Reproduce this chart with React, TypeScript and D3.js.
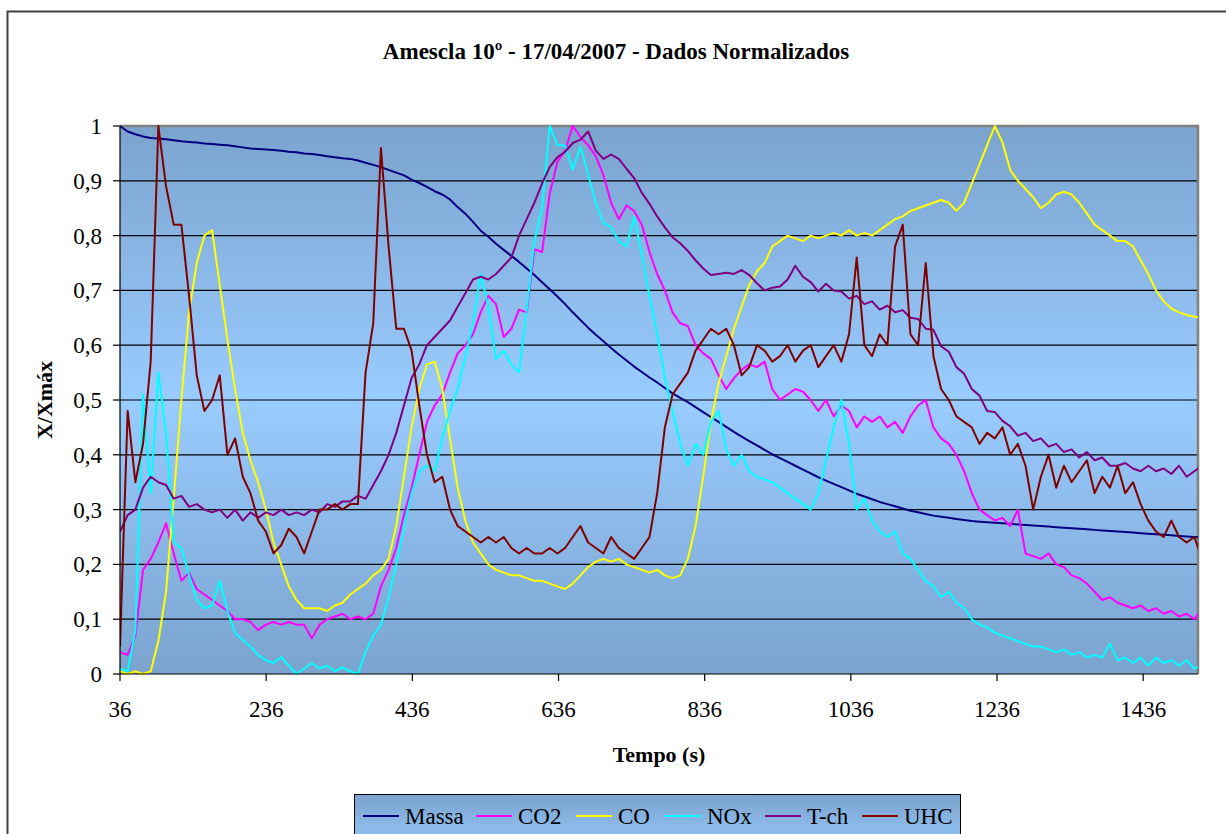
import React from 'react';
import * as d3 from 'd3';

// sample grid (s)
const times: number[] = d3.range(142).map((k) => 36 + 10.5 * k);

const xTicks = [36, 236, 436, 636, 836, 1036, 1236, 1436];
const yTicks = [0, 0.1, 0.2, 0.3, 0.4, 0.5, 0.6, 0.7, 0.8, 0.9, 1];
const yTickLabels = ['0', '0,1', '0,2', '0,3', '0,4', '0,5', '0,6', '0,7', '0,8', '0,9', '1'];

const seriesNames = ['Massa', 'CO2', 'CO', 'NOx', 'T-ch', 'UHC'];
const seriesColors = ['#000080', '#FF00FF', '#FFFF00', '#00FFFF', '#800080', '#800000'];

const massa = [
  1.0, 0.99, 0.985, 0.981, 0.978, 0.977, 0.976, 0.974, 0.972, 0.971,
  0.970, 0.968, 0.967, 0.966, 0.965, 0.963, 0.961, 0.959, 0.958, 0.957,
  0.956, 0.955, 0.953, 0.952, 0.950, 0.949, 0.947, 0.945, 0.943, 0.941,
  0.940, 0.937, 0.933, 0.929, 0.925, 0.920, 0.915, 0.910, 0.902, 0.896,
  0.889, 0.881, 0.875, 0.866, 0.852, 0.840, 0.825, 0.809, 0.798, 0.785,
  0.774, 0.763, 0.752, 0.740, 0.728, 0.715, 0.702, 0.689, 0.675, 0.660,
  0.646, 0.632, 0.619, 0.607, 0.595, 0.583, 0.572, 0.561, 0.551, 0.541,
  0.532, 0.522, 0.512, 0.504, 0.496, 0.487, 0.478, 0.469, 0.460, 0.451,
  0.442, 0.433, 0.425, 0.417, 0.409, 0.401, 0.394, 0.387, 0.380, 0.373,
  0.366, 0.359, 0.353, 0.347, 0.341, 0.335, 0.329, 0.324, 0.319, 0.314,
  0.310, 0.306, 0.302, 0.298, 0.295, 0.292, 0.289, 0.287, 0.285, 0.283,
  0.281, 0.279, 0.278, 0.277, 0.276, 0.275, 0.274, 0.273, 0.272, 0.271,
  0.270, 0.269, 0.268, 0.267, 0.266, 0.265, 0.264, 0.263, 0.262, 0.261,
  0.260, 0.259, 0.258, 0.257, 0.256, 0.255, 0.254, 0.253, 0.252, 0.251,
  0.250, 0.249,
];

const co2 = [
  0.04, 0.035, 0.07, 0.19, 0.21, 0.24, 0.275, 0.22, 0.17, 0.185,
  0.155, 0.145, 0.135, 0.125, 0.115, 0.10, 0.10, 0.095, 0.08, 0.09,
  0.095, 0.09, 0.095, 0.09, 0.09, 0.065, 0.09, 0.10, 0.105, 0.11,
  0.10, 0.105, 0.10, 0.11, 0.16, 0.19, 0.23, 0.29, 0.34, 0.40,
  0.46, 0.49, 0.51, 0.55, 0.585, 0.60, 0.62, 0.66, 0.69, 0.675,
  0.615, 0.63, 0.665, 0.66, 0.775, 0.77, 0.877, 0.935, 0.955, 1.0,
  0.98, 0.965, 0.945, 0.91, 0.86, 0.83, 0.855, 0.845, 0.82, 0.77,
  0.73, 0.70, 0.66, 0.64, 0.635, 0.60, 0.585, 0.575, 0.545, 0.52,
  0.54, 0.555, 0.565, 0.56, 0.57, 0.52, 0.50, 0.51, 0.52, 0.515,
  0.50, 0.48, 0.50, 0.47, 0.49, 0.48, 0.45, 0.47, 0.46, 0.47,
  0.45, 0.46, 0.44, 0.47, 0.49, 0.50, 0.45, 0.43, 0.42, 0.40,
  0.37, 0.33, 0.30, 0.29, 0.28, 0.285, 0.27, 0.30, 0.22, 0.215,
  0.21, 0.22, 0.20, 0.195, 0.18, 0.175, 0.165, 0.15, 0.135, 0.14,
  0.13, 0.125, 0.12, 0.125, 0.115, 0.12, 0.11, 0.115, 0.105, 0.11,
  0.10, 0.12,
];

const co = [
  0.005, 0.0, 0.005, 0.0, 0.005, 0.06, 0.15, 0.32, 0.5, 0.66,
  0.75, 0.80, 0.81, 0.71, 0.61, 0.52, 0.44, 0.39, 0.35, 0.30,
  0.24, 0.20, 0.16, 0.135, 0.12, 0.12, 0.12, 0.115, 0.125, 0.13,
  0.145, 0.155, 0.165, 0.18, 0.19, 0.21, 0.27, 0.36, 0.45, 0.52,
  0.565, 0.57, 0.52, 0.43, 0.34, 0.28, 0.24, 0.22, 0.20, 0.19,
  0.185, 0.18, 0.18, 0.175, 0.17, 0.17, 0.165, 0.16, 0.155, 0.165,
  0.18, 0.195, 0.205, 0.21, 0.205, 0.21, 0.20, 0.195, 0.19, 0.185,
  0.19, 0.18, 0.175, 0.18, 0.21, 0.27, 0.36, 0.46, 0.53, 0.58,
  0.63, 0.67, 0.71, 0.735, 0.75, 0.78, 0.79, 0.80, 0.795, 0.79,
  0.80, 0.795, 0.80, 0.805, 0.80, 0.81, 0.80, 0.805, 0.80, 0.81,
  0.82, 0.83, 0.835, 0.845, 0.85, 0.855, 0.86, 0.865, 0.86, 0.845,
  0.86, 0.895, 0.93, 0.965, 1.0, 0.97, 0.92, 0.90, 0.885, 0.87,
  0.85, 0.86, 0.875, 0.88, 0.875, 0.86, 0.84, 0.82, 0.81, 0.80,
  0.79, 0.79, 0.78, 0.755, 0.73, 0.70, 0.68, 0.667, 0.66, 0.655,
  0.652, 0.65,
];

const nox = [
  0.01, 0.005, 0.08, 0.51, 0.33, 0.55, 0.44, 0.24, 0.23, 0.18,
  0.135, 0.12, 0.125, 0.17, 0.115, 0.075, 0.062, 0.05, 0.035, 0.025,
  0.02, 0.031, 0.015, 0.0, 0.01, 0.02, 0.01, 0.015, 0.005, 0.012,
  0.005, 0.0, 0.04, 0.07, 0.09, 0.14, 0.20, 0.27, 0.33, 0.37,
  0.38, 0.37, 0.43, 0.48, 0.52, 0.58, 0.64, 0.73, 0.67, 0.575,
  0.59, 0.565, 0.55, 0.664, 0.79, 0.85, 1.0, 0.965, 0.965, 0.92,
  0.962, 0.912, 0.86, 0.823, 0.815, 0.79, 0.78, 0.835, 0.765, 0.69,
  0.62, 0.54, 0.48, 0.42, 0.38, 0.42, 0.40, 0.46, 0.48, 0.41,
  0.38, 0.40, 0.37, 0.36, 0.355, 0.35, 0.34, 0.33, 0.32, 0.31,
  0.30, 0.33, 0.39, 0.45, 0.50, 0.42, 0.30, 0.32, 0.28, 0.26,
  0.25, 0.26, 0.22, 0.21, 0.19, 0.17, 0.16, 0.14, 0.15, 0.13,
  0.12, 0.10, 0.09, 0.085, 0.075, 0.07, 0.065, 0.06, 0.055, 0.05,
  0.05, 0.045, 0.04, 0.045, 0.035, 0.04, 0.03, 0.035, 0.03, 0.055,
  0.025, 0.03, 0.02, 0.03, 0.015, 0.03, 0.02, 0.025, 0.015, 0.025,
  0.01, 0.015,
];

const tch = [
  0.26, 0.29, 0.30, 0.34, 0.36, 0.35, 0.345, 0.32, 0.325, 0.305,
  0.31, 0.30, 0.295, 0.30, 0.285, 0.30, 0.28, 0.295, 0.285, 0.295,
  0.29, 0.30, 0.29, 0.295, 0.29, 0.30, 0.295, 0.31, 0.305, 0.315,
  0.315, 0.325, 0.32, 0.345, 0.37, 0.40, 0.44, 0.49, 0.54, 0.565,
  0.60, 0.615, 0.63, 0.645, 0.67, 0.695, 0.72, 0.725, 0.72, 0.73,
  0.745, 0.76, 0.80, 0.83, 0.86, 0.895, 0.925, 0.943, 0.953, 0.969,
  0.975, 0.99, 0.955, 0.94, 0.948, 0.94, 0.922, 0.905, 0.878, 0.858,
  0.835, 0.815, 0.797, 0.786, 0.772, 0.755, 0.74, 0.728, 0.73, 0.732,
  0.73, 0.737, 0.728, 0.713, 0.70, 0.705, 0.707, 0.72, 0.745, 0.725,
  0.715, 0.698, 0.712, 0.70, 0.698, 0.685, 0.69, 0.675, 0.68, 0.665,
  0.672, 0.66, 0.664, 0.65, 0.648, 0.63, 0.628, 0.598, 0.588, 0.56,
  0.548, 0.52, 0.508, 0.48, 0.478, 0.462, 0.452, 0.435, 0.44, 0.425,
  0.43, 0.415, 0.42, 0.405, 0.41, 0.395, 0.405, 0.39, 0.395, 0.38,
  0.38, 0.385, 0.375, 0.37, 0.38, 0.37, 0.375, 0.365, 0.38, 0.36,
  0.37, 0.38,
];

const uhc = [
  0.05, 0.48, 0.35, 0.42, 0.57, 1.0, 0.89, 0.82, 0.82, 0.69,
  0.545, 0.48, 0.50, 0.545, 0.40, 0.43, 0.36, 0.33, 0.28, 0.26,
  0.22, 0.235, 0.265, 0.25, 0.22, 0.26, 0.30, 0.30, 0.31, 0.30,
  0.31, 0.31, 0.55, 0.64, 0.96, 0.78, 0.63, 0.63, 0.59, 0.49,
  0.40, 0.35, 0.36, 0.30, 0.27, 0.26, 0.25, 0.24, 0.25, 0.24,
  0.25, 0.23, 0.22, 0.23, 0.22, 0.22, 0.23, 0.22, 0.23, 0.25,
  0.27, 0.24, 0.23, 0.22, 0.25, 0.23, 0.22, 0.21, 0.23, 0.25,
  0.33, 0.45, 0.51, 0.53, 0.55, 0.59, 0.61, 0.63, 0.62, 0.63,
  0.60, 0.545, 0.56, 0.60, 0.59, 0.57, 0.58, 0.60, 0.57, 0.59,
  0.60, 0.56, 0.58, 0.60, 0.57, 0.62, 0.76, 0.60, 0.58, 0.62,
  0.60, 0.78, 0.82, 0.62, 0.60, 0.75, 0.58, 0.52, 0.50, 0.47,
  0.46, 0.45, 0.42, 0.44, 0.43, 0.45, 0.40, 0.42, 0.38, 0.30,
  0.36, 0.40, 0.34, 0.38, 0.35, 0.37, 0.39, 0.33, 0.36, 0.34,
  0.38, 0.33, 0.35, 0.31, 0.28, 0.26, 0.25, 0.28, 0.25, 0.24,
  0.25, 0.21,
];

const seriesValues = [massa, co2, co, nox, tch, uhc];

const FONT = "'Liberation Serif', 'Times New Roman', serif";

export default function App() {
  const W = 1226;
  const H = 834;
  const left = 120;
  const right = 1198;
  const top = 126;
  const bottom = 674;

  const x = d3.scaleLinear().domain([36, 1511]).range([left, right]);
  const y = d3.scaleLinear().domain([0, 1]).range([bottom, top]);

  const line = d3
    .line<number>()
    .x((_, i) => x(times[i]))
    .y((d) => y(d));

  const legendX = [363, 476, 576, 665, 765, 862];

  return (
    <svg
      width={W}
      height={H}
      style={{ position: 'absolute', left: 0, top: 0, background: '#fff' }}
      fontFamily={FONT}
    >
      <defs>
        <linearGradient id="plotBg" x1="0" y1="0" x2="0" y2="1">
          <stop offset="0" stopColor="#7ba3ce" />
          <stop offset="0.5" stopColor="#99ccff" />
          <stop offset="1" stopColor="#7ba3ce" />
        </linearGradient>
        <linearGradient id="legBg" x1="0" y1="0" x2="0" y2="1">
          <stop offset="0" stopColor="#7ba3ce" />
          <stop offset="1" stopColor="#99ccff" />
        </linearGradient>
        <clipPath id="plotClip">
          <rect x={left} y={top - 2} width={right - left} height={bottom - top + 4} />
        </clipPath>
      </defs>

      {/* chart frame */}
      <rect x={7.5} y={11.5} width={1240} height={840} fill="#fff" stroke="#404040" strokeWidth={2} />

      {/* title */}
      <text x={616} y={59} textAnchor="middle" fontWeight="bold" fontSize={23}>
        Amescla 10º  - 17/04/2007 - Dados Normalizados
      </text>

      {/* plot area */}
      <rect x={left} y={top} width={right - left} height={bottom - top} fill="url(#plotBg)" />

      {/* gridlines */}
      {yTicks.slice(1, -1).map((t) => (
        <line key={t} x1={left} x2={right} y1={y(t)} y2={y(t)} stroke="#000" strokeWidth={1.2} />
      ))}

      {/* plot border (top/right) */}
      <path
        d={`M${left},${top}H${right}V${bottom}`}
        fill="none"
        stroke="#808080"
        strokeWidth={2.5}
      />

      {/* series */}
      <g clipPath="url(#plotClip)">
        {seriesValues.map((vals, i) => (
          <path
            key={seriesNames[i]}
            d={line(vals) || ''}
            fill="none"
            stroke={seriesColors[i]}
            strokeWidth={2}
            strokeLinejoin="round"
          />
        ))}
      </g>

      {/* axes */}
      <line x1={left} x2={left} y1={top} y2={bottom} stroke="#000" strokeWidth={1.2} />
      <line x1={left} x2={right} y1={bottom} y2={bottom} stroke="#000" strokeWidth={1.2} />

      {/* y ticks */}
      {yTicks.map((t, i) => (
        <g key={t}>
          <line x1={left - 7} x2={left} y1={y(t)} y2={y(t)} stroke="#000" strokeWidth={1.2} />
          <text x={102} y={y(t) + 8} textAnchor="end" fontSize={23}>
            {yTickLabels[i]}
          </text>
        </g>
      ))}

      {/* x ticks */}
      {xTicks.map((t) => (
        <g key={t}>
          <line x1={x(t)} x2={x(t)} y1={bottom} y2={bottom + 7} stroke="#000" strokeWidth={1.2} />
          <text x={x(t)} y={717} textAnchor="middle" fontSize={23}>
            {t}
          </text>
        </g>
      ))}

      {/* axis titles */}
      <text x={(left + right) / 2} y={762} textAnchor="middle" fontWeight="bold" fontSize={22}>
        Tempo (s)
      </text>
      <text
        transform={`translate(52,${(top + bottom) / 2}) rotate(-90)`}
        textAnchor="middle"
        fontWeight="bold"
        fontSize={22}
      >
        X/Xmáx
      </text>

      {/* legend */}
      <rect x={354.5} y={794.5} width={606} height={60} fill="url(#legBg)" stroke="#000" strokeWidth={1} />
      {seriesNames.map((n, i) => (
        <g key={n}>
          <line
            x1={legendX[i]}
            x2={legendX[i] + 36}
            y1={816}
            y2={816}
            stroke={seriesColors[i]}
            strokeWidth={2}
          />
          <text x={legendX[i] + 42} y={824} fontSize={23}>
            {n}
          </text>
        </g>
      ))}
    </svg>
  );
}
